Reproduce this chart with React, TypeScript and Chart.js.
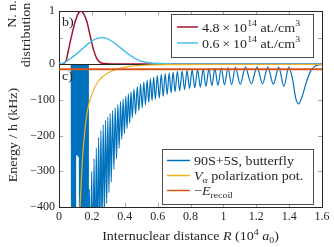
import { useEffect, useRef } from 'react';
import { Chart, registerables } from 'chart.js';
Chart.register(...registerables);

// ---------- data ----------
const xTicks = [0, 0.2, 0.4, 0.6, 0.8, 1.0, 1.2, 1.4, 1.6];
const topTicks = [0, 0.5, 1];
const bottomTicks = [-400, -300, -200, -100];

// nearest-neighbour distribution, 4.8e14 at/cm3
const redCurve: [number, number][] = [
  [0, 0], [0.03, 0.01], [0.045, 0.08], [0.06, 0.3], [0.08, 0.58], [0.1, 0.82], [0.12, 0.97],
  [0.134, 1.0], [0.15, 0.95], [0.17, 0.8], [0.19, 0.53], [0.21, 0.27], [0.23, 0.1], [0.25, 0.03],
  [0.28, 0.005], [0.32, 0], [1.6, 0],
];
// nearest-neighbour distribution, 0.6e14 at/cm3
const cyanCurve: [number, number][] = [
  [0, 0], [0.03, 0.02], [0.06, 0.08], [0.1, 0.17], [0.14, 0.28], [0.18, 0.39], [0.22, 0.47],
  [0.26, 0.5], [0.3, 0.47], [0.34, 0.39], [0.38, 0.29], [0.42, 0.19], [0.46, 0.11], [0.5, 0.05],
  [0.55, 0.02], [0.62, 0.005], [0.7, 0], [1.6, 0],
];
// V_alpha polarization potential (kHz)
const yellowCurve: [number, number][] = [
  [0.12, -500], [0.128, -400], [0.136, -325], [0.142, -269], [0.159, -178], [0.173, -130],
  [0.2, -84], [0.24, -47], [0.3, -24], [0.38, -10], [0.5, -3], [0.7, -1.2], [1.0, -0.5], [1.6, -0.2],
];
// -E_recoil (kHz)
const recoilCurve: [number, number][] = [[0, -14], [1.6, -14]];
// 90S+5S butterfly potential (kHz): short-range dense part
const butterflyInner: [number, number][] = [
  [0.075, -2], [0.0765, -600], [0.078, -2], [0.0795, -600], [0.081, -2], [0.0825, -600], [0.084, -2],
  [0.0855, -600], [0.087, -2], [0.0885, -600], [0.09, -2], [0.0915, -600], [0.093, -2], [0.0945, -600],
  [0.096, -2], [0.0975, -600], [0.099, -2], [0.1005, -240], [0.102, -2], [0.1035, -245], [0.105, -2],
  [0.1065, -235], [0.108, -2], [0.1095, -250], [0.111, -2], [0.1125, -240], [0.114, -2], [0.1155, -255],
  [0.117, -2], [0.1185, -240], [0.12, -2], [0.1215, -260], [0.123, -2], [0.1245, -300], [0.126, -2],
  [0.1275, -600], [0.129, -2], [0.1305, -600], [0.132, -2], [0.1335, -560], [0.135, -2], [0.1365, -380],
  [0.138, -2], [0.1395, -600], [0.141, -2], [0.1425, -600], [0.144, -2], [0.1455, -470], [0.147, -2],
  [0.1485, -600], [0.15, -2], [0.1515, -400], [0.153, -2], [0.1545, -600], [0.156, -2], [0.1575, -600],
  [0.159, -2], [0.1605, -520], [0.162, -2], [0.1635, -600], [0.165, -2], [0.1665, -380], [0.168, -2],
  [0.1695, -600], [0.171, -2], [0.1725, -600], [0.174, -2], [0.1755, -450], [0.177, -2], [0.178, -600],
];
// 90S+5S butterfly potential (kHz): oscillating outer part
const butterflyOuter: [number, number][] = [
  [0.178, -600],
  [0.185, -350], [0.192, -600], [0.199, -300], [0.206, -600], [0.213, -265], [0.22, -560], [0.227, -235],
  [0.234, -520], [0.241, -205], [0.248, -480], [0.255, -185], [0.262, -450], [0.269, -170], [0.276, -420],
  [0.283, -158], [0.29, -390], [0.297, -148], [0.304, -360], [0.311, -138], [0.318, -330], [0.326, -130],
  [0.334, -295], [0.342, -122], [0.35, -265], [0.358, -113], [0.366, -235], [0.374, -105], [0.382, -210],
  [0.39, -98], [0.398, -195], [0.406, -90], [0.414, -180], [0.422, -83], [0.43, -165], [0.438, -77],
  [0.446, -150], [0.456, -70], [0.466, -140], [0.476, -63], [0.486, -130], [0.496, -56], [0.506, -122],
  [0.516, -50], [0.526, -114], [0.536, -45], [0.546, -107], [0.556, -40], [0.566, -102], [0.576, -36],
  [0.586, -98], [0.598, -32], [0.61, -95], [0.622, -28], [0.634, -90], [0.646, -26], [0.658, -85],
  [0.67, -24], [0.682, -80], [0.694, -22], [0.706, -77], [0.72, -20], [0.734, -74], [0.749, -19],
  [0.764, -71], [0.779, -17], [0.794, -68], [0.81, -16], [0.826, -66], [0.843, -15], [0.86, -64],
  [0.877, -14], [0.894, -62], [0.912, -13], [0.93, -60], [0.948, -12], [0.967, -59], [0.987, -11],
  [1.007, -58], [1.028, -10], [1.05, -57], [1.073, -9], [1.103, -56], [1.134, -8], [1.17, -55],
  [1.205, -8], [1.238, -55], [1.27, -8], [1.304, -56], [1.337, -8], [1.368, -62], [1.398, -8],
  [1.42, -40], [1.44, -95], [1.457, -111], [1.478, -92], [1.505, -50], [1.53, -20], [1.555, -6],
  [1.58, -2], [1.6, -1],
];

// ---------- styling helpers ----------
const FONT = '"Liberation Serif", "Times New Roman", serif';
const AXIS = '#262626';
const STRETCH = 1.08;

type Seg = { t: string; it?: boolean; sup?: boolean; sub?: boolean };

function segFont(s: Seg, size: number) {
  const sz = s.sup || s.sub ? size * 0.7 : size;
  return `${s.it ? 'italic ' : ''}${sz}px ${FONT}`;
}
function measureRich(ctx: CanvasRenderingContext2D, segs: Seg[], size: number) {
  let w = 0;
  for (const s of segs) {
    ctx.font = segFont(s, size);
    w += ctx.measureText(s.t).width;
  }
  return w * STRETCH;
}
function drawRich(ctx: CanvasRenderingContext2D, segs: Seg[], x: number, y: number, size: number) {
  ctx.save();
  ctx.translate(x, y);
  ctx.scale(STRETCH, 1);
  let cx = 0;
  ctx.textAlign = 'left';
  ctx.textBaseline = 'alphabetic';
  for (const s of segs) {
    ctx.font = segFont(s, size);
    const dy = s.sup ? -size * 0.4 : s.sub ? size * 0.25 : 0;
    ctx.fillText(s.t, cx, dy);
    cx += ctx.measureText(s.t).width;
  }
  ctx.restore();
}

const topLegend: { color: string; segs: Seg[] }[] = [
  { color: '#A2142F', segs: [{ t: '4.8\u2009×\u200910' }, { t: '14', sup: true }, { t: ' at./cm' }, { t: '3', sup: true }] },
  { color: '#4DBEEE', segs: [{ t: '0.6\u2009×\u200910' }, { t: '14', sup: true }, { t: ' at./cm' }, { t: '3', sup: true }] },
];
const bottomLegend: { color: string; segs: Seg[] }[] = [
  { color: '#0072BD', segs: [{ t: '90S+5S, butterfly' }] },
  { color: '#EDB120', segs: [{ t: 'V', it: true }, { t: 'α', it: true, sub: true }, { t: ' polarization pot.' }] },
  { color: '#D95319', segs: [{ t: '−' }, { t: 'E', it: true }, { t: 'recoil', sub: true }] },
];

const framePlugin = {
  id: 'frame',
  beforeDatasetsDraw(chart: any) {
    const ctx: CanvasRenderingContext2D = chart.ctx;
    const x = chart.scales.x, yt = chart.scales.yTop, yb = chart.scales.yBot;
    const L = x.left, R = x.right;
    const line = (a: number, b: number, c: number, d: number) => {
      ctx.beginPath(); ctx.moveTo(a, b); ctx.lineTo(c, d); ctx.stroke();
    };
    ctx.save();
    ctx.strokeStyle = '#a6a6a6';
    ctx.lineWidth = 1;
    for (const v of xTicks) {
      const px = Math.round(x.getPixelForValue(v)) + 0.5;
      line(px, yt.top, px, yt.top + 4);
      line(px, yb.bottom, px, yb.bottom - 4);
    }
    for (const v of topTicks) {
      const py = Math.round(yt.getPixelForValue(v)) + 0.5;
      line(L, py, L + 4, py); line(R, py, R - 4, py);
    }
    for (const v of bottomTicks) {
      const py = Math.round(yb.getPixelForValue(v)) + 0.5;
      line(L, py, L + 4, py); line(R, py, R - 4, py);
    }
    ctx.strokeStyle = AXIS;
    ctx.lineWidth = 1;
    ctx.strokeRect(Math.round(L) + 0.5, Math.round(yt.top) + 0.5, Math.round(R - L), Math.round(yt.bottom - yt.top));
    ctx.strokeRect(Math.round(L) + 0.5, Math.round(yb.top) + 0.5, Math.round(R - L), Math.round(yb.bottom - yb.top));
    ctx.restore();
  },
  afterDraw(chart: any) {
    const ctx: CanvasRenderingContext2D = chart.ctx;
    ctx.save();
    ctx.fillStyle = AXIS;
    const size = 13;
    // panel labels
    drawRich(ctx, [{ t: 'b)' }], 62, 26, size);
    drawRich(ctx, [{ t: 'c)' }], 62, 80, size);
    // legends
    const box = (x0: number, y0: number, x1: number, y1: number) => {
      ctx.fillStyle = '#ffffff';
      ctx.fillRect(x0, y0, x1 - x0, y1 - y0);
      ctx.strokeStyle = '#4d4d4d';
      ctx.lineWidth = 1;
      ctx.strokeRect(x0 + 0.5, y0 + 0.5, x1 - x0, y1 - y0);
    };
    box(171, 14, 313, 57);
    topLegend.forEach((e, i) => {
      const yy = 27 + i * 16;
      ctx.strokeStyle = e.color; ctx.lineWidth = 1.5;
      ctx.beginPath(); ctx.moveTo(177, yy); ctx.lineTo(198, yy); ctx.stroke();
      ctx.fillStyle = AXIS;
      drawRich(ctx, e.segs, 202, yy + 4.5, size);
    });
    box(162, 149, 313, 204);
    bottomLegend.forEach((e, i) => {
      const yy = 160.5 + i * 15;
      ctx.strokeStyle = e.color; ctx.lineWidth = 1.5;
      ctx.beginPath(); ctx.moveTo(167, yy); ctx.lineTo(190, yy); ctx.stroke();
      ctx.fillStyle = AXIS;
      drawRich(ctx, e.segs, 194, yy + 4.5, size);
    });
    // x axis title
    ctx.fillStyle = AXIS;
    const xt: Seg[] = [
      { t: 'Internuclear distance ' }, { t: 'R', it: true }, { t: ' (10' }, { t: '4', sup: true },
      { t: ' ' }, { t: 'a', it: true }, { t: '0', sub: true }, { t: ')' },
    ];
    const xs = 13;
    const wx = measureRich(ctx, xt, xs);
    drawRich(ctx, xt, (chart.scales.x.left + chart.scales.x.right) / 2 - wx / 2, 240, xs);
    // y axis titles (rotated)
    const rot = (segs: Seg[], bx: number, cy: number) => {
      const w = measureRich(ctx, segs, size);
      ctx.save();
      ctx.translate(bx, cy);
      ctx.rotate(-Math.PI / 2);
      drawRich(ctx, segs, -w / 2, 0, size);
      ctx.restore();
    };
    rot([{ t: 'Energy / h (kHz)' }], 17, 135);
    rot([{ t: 'N. n.' }], 15.5, 14);
    rot([{ t: 'distribution' }], 30, 35);
    ctx.restore();
  },
};

const minus = (v: number) => (v < 0 ? '−' + Math.abs(v) : String(v));

export default function App() {
  const ref = useRef<HTMLCanvasElement | null>(null);
  useEffect(() => {
    if (!ref.current) return;
    const pts = (c: [number, number][]) => c.map(([x, y]) => ({ x, y }));
    const tickFont = { family: FONT, size: 12 };
    const chart = new Chart(ref.current, {
      type: 'line',
      data: {
        datasets: [
          { label: '0.6e14', data: pts(cyanCurve), yAxisID: 'yTop', borderColor: '#4DBEEE', borderWidth: 1.5, pointRadius: 0, cubicInterpolationMode: 'monotone', order: 1 },
          { label: '4.8e14', data: pts(redCurve), yAxisID: 'yTop', borderColor: '#A2142F', borderWidth: 1.5, pointRadius: 0, cubicInterpolationMode: 'monotone', order: 2 },
          { label: '-Erecoil', data: pts(recoilCurve), yAxisID: 'yBot', borderColor: '#D95319', borderWidth: 1.8, pointRadius: 0, order: 3 },
          { label: 'Valpha', data: pts(yellowCurve), yAxisID: 'yBot', borderColor: '#EDB120', borderWidth: 1.2, pointRadius: 0, cubicInterpolationMode: 'monotone', order: 4 },
          { label: '90S+5S inner', data: pts(butterflyInner), yAxisID: 'yBot', borderColor: '#0072BD', borderWidth: 1.3, pointRadius: 0, tension: 0, order: 5 },
          { label: '90S+5S', data: pts(butterflyOuter), yAxisID: 'yBot', borderColor: '#0072BD', borderWidth: 1.2, pointRadius: 0, cubicInterpolationMode: 'monotone', order: 6 },
        ],
      } as any,
      options: {
        animation: false,
        responsive: false,
        layout: { padding: { top: 10, right: 12, left: 0, bottom: 0 } },
        plugins: { legend: { display: false }, tooltip: { enabled: false } },
        scales: {
          x: {
            type: 'linear', min: 0, max: 1.6,
            grid: { display: false, drawTicks: false }, border: { display: false },
            ticks: { font: tickFont, color: AXIS, padding: 3, maxRotation: 0, callback: (v: any) => String(Number(Number(v).toFixed(1))) },
            afterBuildTicks: (s: any) => { s.ticks = xTicks.map((v) => ({ value: v })); },
            afterFit: (s: any) => { s.height = 40; },
          },
          yBot: {
            type: 'linear', position: 'left', stack: 'v', stackWeight: 144, min: -400, max: 1,
            grid: { display: false, drawTicks: false }, border: { display: false },
            ticks: { font: tickFont, color: AXIS, padding: 4, callback: (v: any) => minus(Number(v)) },
            afterBuildTicks: (s: any) => { s.ticks = bottomTicks.map((v) => ({ value: v })); },
            afterFit: (s: any) => { s.width = 59; },
          },
          yTop: {
            type: 'linear', position: 'left', stack: 'v', stackWeight: 53, min: 0, max: 1,
            grid: { display: false, drawTicks: false }, border: { display: false },
            ticks: { font: tickFont, color: AXIS, padding: 4, callback: (v: any) => String(v) },
            afterBuildTicks: (s: any) => { s.ticks = topTicks.map((v) => ({ value: v })); },
            afterFit: (s: any) => { s.width = 59; },
          },
        } as any,
      },
      plugins: [framePlugin],
    });
    return () => chart.destroy();
  }, []);
  return (
    <div style={{ position: 'absolute', left: 0, top: 0, width: 334, height: 247, background: '#fff' }}>
      <canvas ref={ref} width={334} height={247} style={{ display: 'block', width: 334, height: 247 }} />
    </div>
  );
}
